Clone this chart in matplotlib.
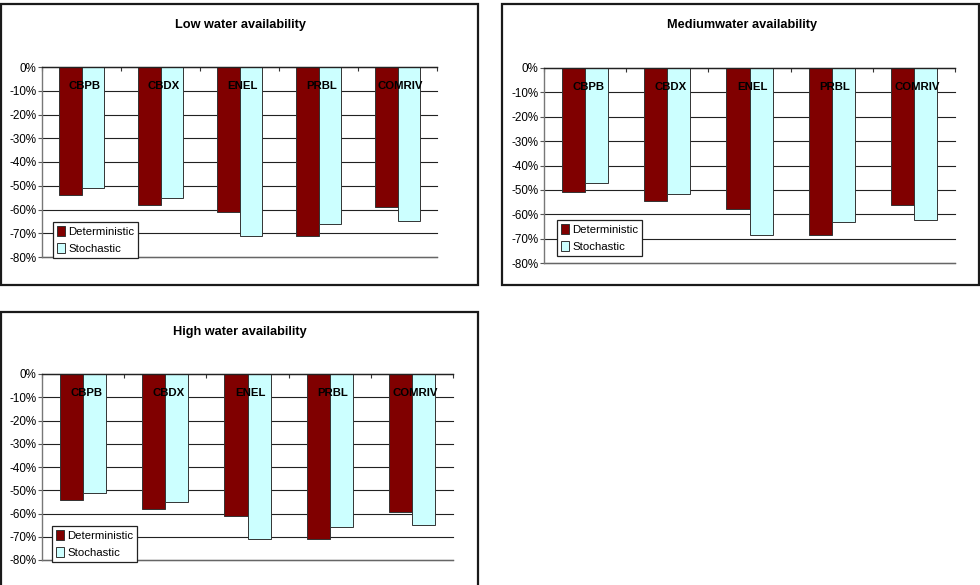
import matplotlib
matplotlib.use("Agg")
import matplotlib.pyplot as plt
from matplotlib.patches import Rectangle
import numpy as np
from matplotlib import font_manager

categories = ["CBPB", "CBDX", "ENEL", "PRBL", "COMRIV"]
series_names = ["Deterministic", "Stochastic"]

low_det = [-0.54, -0.58, -0.61, -0.71, -0.59]
low_sto = [-0.51, -0.55, -0.71, -0.66, -0.65]
med_det = [-0.51, -0.545, -0.58, -0.685, -0.56]
med_sto = [-0.47, -0.515, -0.685, -0.63, -0.625]
high_det = [-0.54, -0.58, -0.61, -0.71, -0.595]
high_sto = [-0.51, -0.55, -0.71, -0.66, -0.65]

titles = ["Low water availability", "Mediumwater availability", "High water availability"]
yticks = [0, -0.1, -0.2, -0.3, -0.4, -0.5, -0.6, -0.7, -0.8]
ytick_labels = ["0%", "-10%", "-20%", "-30%", "-40%", "-50%", "-60%", "-70%", "-80%"]

DET_COLOR = "#800000"
STO_COLOR = "#CCFFFF"

names = {f.name for f in font_manager.fontManager.ttflist}
NARROW = "Liberation Sans Narrow" if "Liberation Sans Narrow" in names else "Liberation Sans"
HAS_NARROW = NARROW == "Liberation Sans Narrow"
plt.rcParams["font.family"] = ["Liberation Sans", "DejaVu Sans"]

W, H = 980, 585
fig = plt.figure(figsize=(W / 100, H / 100), dpi=100)


def fx(px):
    return px / W


def fy(py):
    return 1 - py / H


def frame(x0, y0, x1, y1):
    fig.patches.append(Rectangle((fx(x0), fy(y1)), fx(x1 - x0), (y1 - y0) / H,
                                 transform=fig.transFigure, fill=False,
                                 edgecolor="#1a1a1a", linewidth=1.6, zorder=0))


def panel(box, axrect, title, title_xy, det, sto, legend_xy):
    frame(*box)
    x0, y0, x1, y1 = axrect
    ax = fig.add_axes([fx(x0), fy(y1), fx(x1 - x0), (y1 - y0) / H])
    n = len(categories)
    x = np.arange(n)
    bw = 0.28
    ax.bar(x - bw / 2, det, width=bw, color=DET_COLOR, edgecolor="#333333",
           linewidth=0.7, label=series_names[0], zorder=3)
    ax.bar(x + bw / 2, sto, width=bw, color=STO_COLOR, edgecolor="#333333",
           linewidth=0.7, label=series_names[1], zorder=3)
    ax.set_xlim(-0.5, n - 0.5)
    ax.set_ylim(-0.8, 0)
    ax.set_yticks(yticks)
    ax.set_yticklabels(ytick_labels, fontsize=8.4)
    ax.tick_params(axis="y", direction="out", length=3, width=0.8, color="#555555", pad=1)
    ax.set_xticks(np.arange(n + 1) - 0.5)
    ax.set_xticklabels([])
    ax.tick_params(axis="x", top=True, bottom=False, direction="in", length=3,
                   width=0.8, color="#333333")
    ax.grid(axis="y", color="#222222", linewidth=0.8, zorder=1)
    ax.set_axisbelow(True)
    for gl in ax.get_ygridlines():
        gl.set_clip_on(False)
    ax.axhline(-0.8, color="#666666", linewidth=1.0, clip_on=False, zorder=2)
    for s in ["right", "bottom"]:
        ax.spines[s].set_visible(False)
    ax.spines["left"].set_color("#777777")
    ax.spines["left"].set_linewidth(1.0)
    ax.spines["top"].set_color("#222222")
    ax.spines["top"].set_linewidth(1.0)
    ax.spines["top"].set_zorder(4)
    cat_fs = 9 if HAS_NARROW else 8.2
    for i, c in enumerate(categories):
        ax.text(i + 0.04, -0.08, c, ha="center", va="center", fontsize=cat_fs,
                fontweight="bold", family=[NARROW, "Liberation Sans"], zorder=5)
    title_fs = 10.5 if HAS_NARROW else 9.2
    fig.text(fx(title_xy[0]), fy(title_xy[1]), title, ha="center", va="center",
             fontsize=title_fs, fontweight="bold", family=[NARROW, "Liberation Sans"])
    leg = ax.legend(loc="lower left", bbox_to_anchor=(fx(legend_xy[0]), fy(legend_xy[1])),
                    bbox_transform=fig.transFigure, fontsize=8.2, frameon=True,
                    fancybox=False, framealpha=1, edgecolor="#222222",
                    handlelength=0.7, handleheight=0.9, handletextpad=0.3,
                    borderpad=0.35, labelspacing=0.55, borderaxespad=0)
    leg.get_frame().set_linewidth(0.9)
    leg.set_zorder(10)
    return ax


panel((1, 4.5, 478, 285), (42, 67, 437, 257), titles[0], (240, 25),
      low_det, low_sto, (53, 258))
panel((502, 4.5, 979, 285), (544, 68, 955, 263), titles[1], (742, 25),
      med_det, med_sto, (557, 256))
panel((1, 312, 478, 600), (42, 374, 453, 560), titles[2], (240, 332),
      high_det, high_sto, (52, 562))

fig.savefig("out.png", dpi=100)
